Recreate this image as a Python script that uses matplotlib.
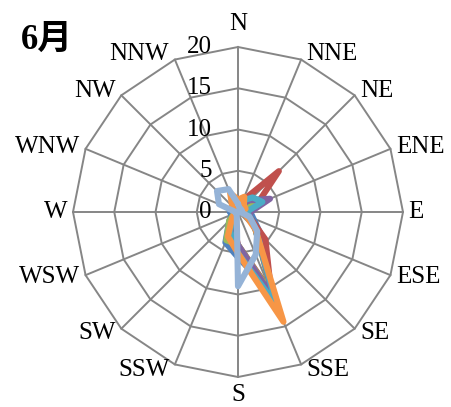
import numpy as np
import matplotlib

matplotlib.use("Agg")
import matplotlib.pyplot as plt

# 16 wind directions, clockwise from north
directions = ["N", "NNE", "NE", "ENE", "E", "ESE", "SE", "SSE",
              "S", "SSW", "SW", "WSW", "W", "WNW", "NW", "NNW"]
r_ticks = [0, 5, 10, 15, 20]

# frequency per direction, one list per series
s1 = [0.5, 0.5, 0.8, 1.5, 1.5, 2.0, 4.0, 10.5, 5.5, 4.0, 1.5, 0.8, 1.0, 0.5, 0.5, 0.5]
s2 = [1.0, 1.5, 7.0, 2.5, 1.5, 1.5, 4.7, 10.5, 4.0, 1.5, 0.5, 0.3, 0.3, 0.3, 0.3, 0.5]
s3 = [0.5, 0.5, 1.0, 2.0, 1.0, 1.5, 3.0, 11.0, 4.0, 3.7, 1.5, 0.5, 0.5, 0.3, 0.3, 0.5]
s4 = [0.5, 1.0, 2.0, 4.2, 1.5, 1.5, 3.0, 11.5, 4.0, 2.0, 0.8, 0.3, 0.3, 0.3, 0.3, 0.5]
s5 = [1.0, 1.5, 2.5, 3.2, 1.0, 1.5, 3.0, 12.3, 5.0, 2.5, 0.8, 0.3, 0.3, 0.3, 0.5, 0.8]
s6 = [1.5, 2.0, 1.0, 1.0, 0.5, 1.0, 3.0, 14.4, 5.0, 3.2, 1.0, 0.5, 0.3, 0.3, 1.0, 2.5]
s7 = [1.0, 0.5, 0.5, 0.5, 0.3, 1.5, 3.3, 5.6, 9.0, 0.4, 0.3, 0.3, 0.3, 2.5, 3.6, 3.0]
series = [s1, s2, s3, s4, s5, s6, s7]
colors = ["#4F81BD", "#C0504D", "#9BBB59", "#8064A2", "#4BACC6", "#F79646", "#95B3D7"]

SERIF = ["Liberation Serif", "Noto Sans CJK SC", "DejaVu Serif"]
plt.rcParams["font.family"] = SERIF

W, H, DPI = 452, 407, 100
fig = plt.figure(figsize=(W / DPI, H / DPI), dpi=DPI)
cx, cy, rad = 238, 212, 165
ax = fig.add_axes([(cx - rad) / W, (H - cy - rad) / H, 2 * rad / W, 2 * rad / H],
                  projection="polar")
ax.set_theta_zero_location("N")
ax.set_theta_direction(-1)
ax.set_ylim(0, 20)
ax.grid(False)
ax.spines["polar"].set_visible(False)
ax.set_xticks([])
ax.set_yticks([])
ax.patch.set_alpha(0)

theta = np.deg2rad(np.arange(len(directions)) * 22.5)
closed = np.append(theta, theta[0])

# polygon grid
grid_kw = dict(color="#868686", lw=1.4, zorder=1, clip_on=False)
for lv in r_ticks[1:]:
    ax.plot(closed, [lv] * len(closed), **grid_kw)
for t in theta:
    ax.plot([t, t], [0, 20], **grid_kw)

for vals, c in zip(series, colors):
    ax.plot(closed, vals + vals[:1], color=c, lw=4.4, zorder=3,
            solid_joinstyle="round", solid_capstyle="round")

# radial labels left of the north spoke
for v in r_ticks:
    ax.annotate(str(v), (0, v), xytext=(-19, 0), textcoords="offset points",
                ha="right", va="center", fontsize=18, zorder=4)

# direction labels
for name, t in zip(directions, theta):
    s, c = np.sin(t), np.cos(t)
    if abs(s) < 0.1:
        ha, dx = "center", 0
        va, dy = ("bottom", 9) if c > 0 else ("top", -5)
    else:
        ha, dx = ("left", 4) if s > 0 else ("right", -4)
        va, dy = "center", 4 * c
    ax.annotate(name, (t, 20), xytext=(dx, dy), textcoords="offset points",
                ha=ha, va=va, fontsize=18, annotation_clip=False)

fig.text(21 / W, 1 - 24 / H, "6月", fontsize=25, fontweight="bold",
         ha="left", va="top", family=SERIF)

fig.savefig("out.png", dpi=DPI)
